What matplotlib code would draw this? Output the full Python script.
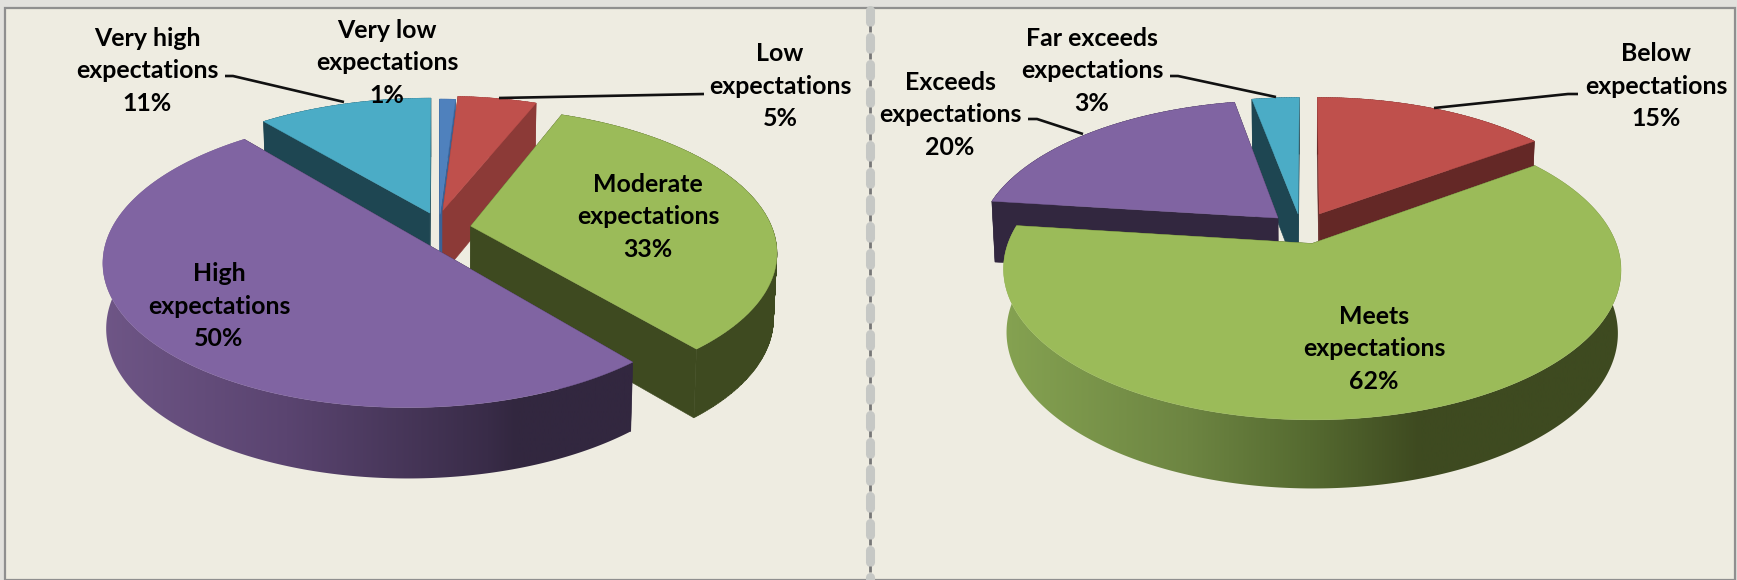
import numpy as np
import matplotlib
matplotlib.use("Agg")
import matplotlib.pyplot as plt
from matplotlib.colors import to_rgb
from matplotlib.patches import PathPatch, Polygon, Rectangle
from matplotlib.path import Path

# ── Data ──────────────────────────────────────────────────────────────────────
LEFT_LABELS = ["Very low\nexpectations", "Low\nexpectations", "Moderate\nexpectations",
               "High\nexpectations", "Very high\nexpectations"]
LEFT_VALUES = [1, 5, 33, 50, 11]

RIGHT_LABELS = ["Below\nexpectations", "Meets\nexpectations",
                "Exceeds\nexpectations", "Far exceeds\nexpectations"]
RIGHT_VALUES = [15, 62, 20, 3]

# ── Style ─────────────────────────────────────────────────────────────────────
BG = "#eeece1"
BLUE, RED, GREEN, PURPLE, CYAN = "#4f81bd", "#bf504c", "#9bbb59", "#8064a2", "#4bacc6"
DK_BLUE, DK_RED, DK_RED2 = "#3a6296", "#8c3a37", "#642826"
DK_GREEN, DK_PURPLE, DK_CYAN = "#3e4a20", "#32273f", "#1e4652"
PERSP = 0.17
RIM_SHRINK = 0.99
plt.rcParams["font.family"] = ["Lato", "DejaVu Sans"]
plt.rcParams["font.weight"] = "bold"

fig = plt.figure(figsize=(17.37, 5.8), dpi=100)
ax = fig.add_axes([0, 0, 1, 1])
ax.axis("off")


def project(X, Y, pie):
    d = 1 + PERSP * Y
    sx = pie["cx"] + pie["rx"] * X / d
    sy = pie["cy"] - pie["ry"] * Y / d
    # lower edge of the slab: a bit further down and pulled in to the centre
    bx = pie["cx"] + (sx - pie["cx"]) * RIM_SHRINK
    by = sy + pie["depth"] / np.sqrt(d)
    return sx, sy, bx, by


def draw_wedge(a0, a1, off, pie, top, face, side, z):
    # angles clockwise from 12 o'clock, in degrees
    t = np.radians(np.linspace(a0, a1, max(int(a1 - a0) * 2, 8)))
    X = np.sin(t) + off[0]
    Y = np.cos(t) + off[1]
    sx, sy, bx, by = project(X, Y, pie)
    cx, cy, cbx, cby = project(np.array([off[0]]), np.array([off[1]]), pie)

    # the two cut faces
    for i in (0, -1):
        q = [(cx[0], cy[0]), (sx[i], sy[i]), (bx[i], by[i]), (cbx[0], cby[0])]
        ax.add_patch(Polygon(q, closed=True, fc=face, ec=face, lw=0.4, zorder=z))

    # outer rim, one quad per arc step so the silhouette stays full at the sides
    quads = [[(sx[i], sy[i]), (sx[i + 1], sy[i + 1]), (bx[i + 1], by[i + 1]), (bx[i], by[i])]
             for i in range(len(t) - 1)]
    rim = Path.make_compound_path(*[Path(q + [q[0]], closed=True) for q in quads])
    if isinstance(side, str):
        ax.add_patch(PathPatch(rim, fc=side, ec=side, lw=0.3, zorder=z + 0.1))
    else:
        xs = [s[0] for s in side]
        rgb = np.array([to_rgb(s[1]) for s in side])
        grid = np.linspace(xs[0], xs[-1], 400)
        img = np.stack([np.interp(grid, xs, rgb[:, k]) for k in range(3)], axis=1)[None, :, :]
        im = ax.imshow(img, extent=(xs[0], xs[-1], 580, 0), aspect="auto", zorder=z + 0.1)
        im.set_clip_path(PathPatch(rim, transform=ax.transData))

    pts = [(cx[0], cy[0])] + list(zip(sx, sy))
    ax.add_patch(Polygon(pts, closed=True, fc=top, ec=top, lw=0.3, zorder=z + 0.2))


def draw_pie(values, pie, styles):
    angles = np.concatenate([[0], np.cumsum(values)]) * 3.6
    for i in pie["order"]:
        top, face, side, off = styles[i]
        draw_wedge(angles[i], angles[i + 1], off, pie, top, face, side, 3 + pie["order"].index(i))


def leader(xs, ys):
    ax.plot(xs, ys, color="#111111", lw=1.9, zorder=9, solid_capstyle="butt")


# ── Panel ─────────────────────────────────────────────────────────────────────
ax.add_patch(Rectangle((0, 0), 1737, 580, fc="#e2e1dd", ec="none", zorder=0))
ax.add_patch(Rectangle((5, 8), 1730, 572, fc=BG, ec="#8f8f8f", lw=1.6, zorder=1))

# divider between the two charts
for y in np.arange(5, 580, 27):
    ax.plot([870, 870], [y + 4.5, y + 16.5], color="#c6c8c5", lw=6.5, zorder=2,
            solid_capstyle="round")
    ax.plot([870, 870], [y + 21, y + 27], color="#777777", lw=2, zorder=2.1,
            solid_capstyle="butt")

# ── Left pie ──────────────────────────────────────────────────────────────────
left_pie = dict(cx=437, cy=224, rx=300, ry=138, depth=64, order=[4, 0, 1, 2, 3])
purple_rim = [(80, "#715889"), (287, "#5a4470"), (488, "#392c48"), (517, "#32273f"), (660, "#32273f")]
left_styles = [
    (BLUE, DK_BLUE, DK_BLUE, (0.01, 0.07)),
    (RED, DK_RED, DK_RED, (0.02, 0.10)),
    (GREEN, DK_GREEN, DK_GREEN, (0.112, -0.015)),
    (PURPLE, DK_PURPLE, purple_rim, (-0.08, -0.085)),
    (CYAN, DK_CYAN, DK_CYAN, (-0.024, 0.08)),
]
draw_pie(LEFT_VALUES, left_pie, left_styles)

# ── Right pie ─────────────────────────────────────────────────────────────────
right_pie = dict(cx=1306, cy=232, rx=300, ry=142, depth=62, order=[3, 2, 0, 1])
green_rim = [(980, "#88a653"), (1188, "#6d8542"), (1310, "#556a30"), (1420, "#3e4a20"), (1650, "#3e4a20")]
right_styles = [
    (RED, DK_RED2, DK_RED2, (0.045, 0.13)),
    (GREEN, DK_GREEN, green_rim, (0.02, -0.08)),
    (PURPLE, DK_PURPLE, DK_PURPLE, (-0.095, 0.10)),
    (CYAN, DK_CYAN, DK_CYAN, (-0.027, 0.13)),
]
draw_pie(RIGHT_VALUES, right_pie, right_styles)

# ── Labels ────────────────────────────────────────────────────────────────────
left_pos = [(387, 63), (780, 86), (648, 217), (219, 306), (147, 71)]
right_pos = [(1656, 86), (1374, 349), (950, 115), (1092, 71)]

for labels, values, pos in [(LEFT_LABELS, LEFT_VALUES, left_pos),
                            (RIGHT_LABELS, RIGHT_VALUES, right_pos)]:
    for lab, val, (x, y) in zip(labels, values, pos):
        ax.text(x, y, f"{lab}\n{val}%", ha="center", va="center", ma="center",
                fontsize=17.9, fontweight="bold", color="black", linespacing=1.49, zorder=10)

leader([225, 233, 344], [76, 76, 102])
leader([704, 499], [94, 98])
leader([1170, 1178, 1276], [76, 76, 97])
leader([1028, 1037, 1083], [119, 119, 134])
leader([1578, 1568, 1434], [94, 94, 108])

ax.set_xlim(0, 1737)
ax.set_ylim(580, 0)

fig.savefig("out.png", dpi=100, facecolor=BG)
